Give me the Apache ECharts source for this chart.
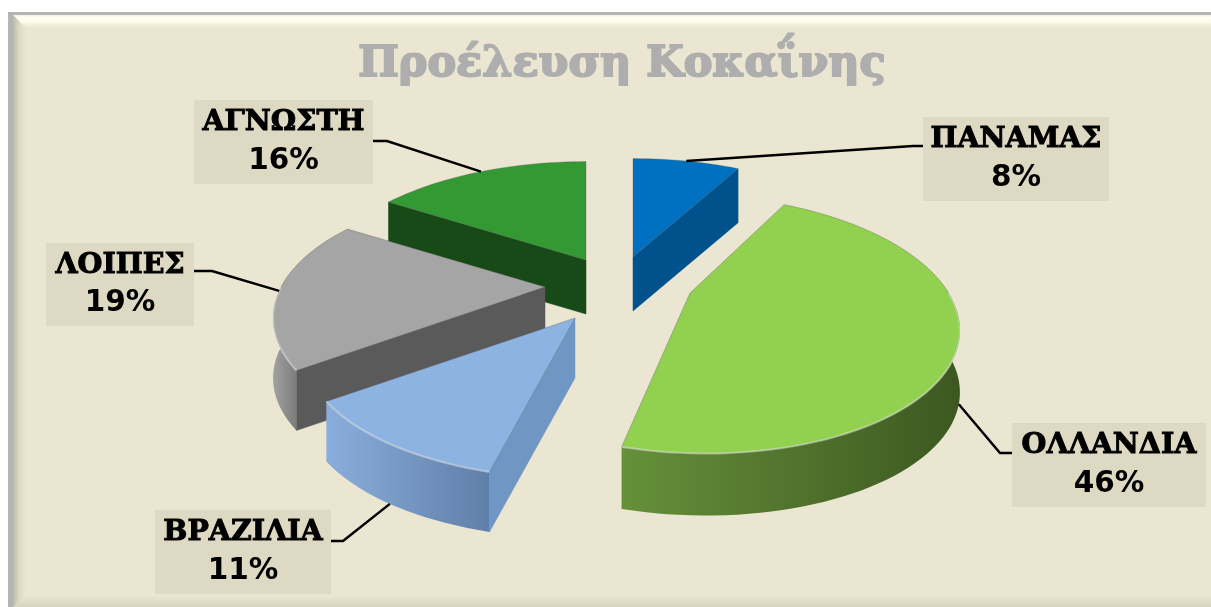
<!DOCTYPE html>
<html>
<head>
<meta charset="utf-8">
<title>Προέλευση Κοκαΐνης</title>
<style>
  html, body { margin: 0; padding: 0; background: #fff; }
  #main { width: 1211px; height: 607px; }
</style>
<script src="https://cdn.jsdelivr.net/npm/echarts@6/dist/echarts.min.js"></script>
</head>
<body>
<div id="main"></div>
<script>
const categories = ['ΠΑΝΑΜΑΣ', 'ΟΛΛΑΝΔΙΑ', 'ΒΡΑΖΙΛΙΑ', 'ΛΟΙΠΕΣ', 'ΑΓΝΩΣΤΗ']
const values = [8, 46, 11, 19, 16]

// colours per slice: top, radial wall, rim wall left -> right
const topColors = ['#0070c0', '#92d050', '#8db3e2', '#a5a5a5', '#339933']
const wallColors = ['#00518c', '#3f5c20', '#7096c4', '#5a5a5a', '#174a17']
const rimColors = [
  ['#00518c', '#00518c'],
  ['#66903a', '#3c5820'],
  ['#8aaedc', '#5f7fa8'],
  ['#a2a2a2', '#7c7c7c'],
  ['#174a17', '#174a17']
]

// where each exploded slice has its tip, wall height, paint order
const tips = [[633, 257], [690, 293], [575, 318], [545, 287], [586, 260]]
const depths = [54, 62, 60, 60, 54]
const paintOrder = [1, 4, 5, 3, 2]
// the big slice sits off-axis in the source, so it leans a little
const skews = [0, 0.1, 0, 0, 0]
const widths = [1, 0.98, 1, 1, 1]

// label boxes [x, y, w, h] and the elbow of each leader line
const boxes = [
  [923, 117, 186, 84],
  [1012, 423, 194, 84],
  [155, 510, 176, 84],
  [46, 243, 148, 83],
  [194, 100, 179, 84]
]
const elbows = [[913, 146], [1000, 453], [343, 541], [212, 271], [387, 141]]

const RX = 264
const RY = 122
const PERSP = 0.24 // far side shrinks, near side grows
const RAD = Math.PI / 180

const total = values.reduce((a, b) => a + b, 0)

// clockwise from 12 o'clock
const startAngle = (i) => values.slice(0, i).reduce((a, b) => a + b, 0) / total * 360

const project = (i, deg, drop) => {
  const tip = tips[i]
  const s = Math.sin(deg * RAD)
  const c = Math.cos(deg * RAD)
  const g = 1 / (1 + PERSP * c)
  const dy = -RY * c * g
  return [tip[0] + RX * widths[i] * s * g + skews[i] * dy, tip[1] + dy + (drop || 0)]
}

const arcPoints = (i, from, to, drop) => {
  const pts = []
  const steps = Math.max(2, Math.ceil((to - from) / 2))
  for (let k = 0; k <= steps; k++) {
    pts.push(project(i, from + (to - from) * k / steps, drop))
  }
  return pts
}

const renderSlice = (params, api) => {
  const i = params.dataIndex
  const from = startAngle(i)
  const to = from + api.value(1) / total * 360
  const tip = tips[i]
  const d = depths[i]
  const z = paintOrder[i] * 10
  const children = []

  const wall = (deg) => {
    const p = project(i, deg)
    return {
      type: 'polygon',
      z2: z,
      shape: { points: [tip, p, [p[0], p[1] + d], [tip[0], tip[1] + d]] },
      style: { fill: wallColors[i], stroke: wallColors[i], lineWidth: 0.5 }
    }
  }
  // only the walls turned towards the viewer
  if (Math.sin(from * RAD) < -0.001) children.push(wall(from))
  if (Math.sin(to * RAD) > 0.001) children.push(wall(to))

  // outer rim, front half only
  const rimFrom = Math.max(from, 90)
  const rimTo = Math.min(to, 270)
  if (rimTo > rimFrom) {
    const upper = arcPoints(i, rimFrom, rimTo, 0)
    const lower = arcPoints(i, rimFrom, rimTo, d).reverse()
    const xs = upper.map((p) => p[0])
    const left = Math.min(...xs)
    const right = Math.max(...xs)
    children.push({
      type: 'polygon',
      z2: z + 1,
      shape: { points: upper.concat(lower) },
      style: {
        fill: {
          type: 'linear',
          x: left, y: 0, x2: right, y2: 0,
          global: true,
          colorStops: [
            { offset: 0, color: rimColors[i][0] },
            { offset: 1, color: rimColors[i][1] }
          ]
        }
      }
    })
    children.push({
      type: 'polyline',
      z2: z + 3,
      shape: { points: upper },
      style: { fill: null, stroke: 'rgba(255,255,255,0.4)', lineWidth: 2 }
    })
  }

  // top face
  children.push({
    type: 'polygon',
    z2: z + 2,
    shape: { points: [tip].concat(arcPoints(i, from, to, 0)) },
    style: { fill: topColors[i], stroke: 'rgba(90,90,90,0.35)', lineWidth: 1 }
  })

  // leader from the middle of the slice to its label
  const mid = (from + to) / 2
  const anchor = project(i, mid, Math.cos(mid * RAD) < -0.1 ? d : 0)
  const box = boxes[i]
  const side = elbows[i][0] > anchor[0] ? box[0] : box[0] + box[2]
  children.push({
    type: 'polyline',
    z2: 100,
    shape: { points: [anchor, elbows[i], [side, elbows[i][1]]] },
    style: { fill: null, stroke: '#000', lineWidth: 2.5 }
  })

  // label
  children.push({
    type: 'rect',
    z2: 101,
    shape: { x: box[0], y: box[1], width: box[2], height: box[3] },
    style: { fill: '#ddd9c3' }
  })
  children.push({
    type: 'text',
    z2: 102,
    style: {
      x: box[0] + box[2] / 2,
      y: box[1] + box[3] / 2,
      align: 'center',
      verticalAlign: 'middle',
      text: '{n|' + categories[i] + '}\n{p|' + api.value(1) + '%}',
      rich: {
        n: { font: 'bold 28.5px "DejaVu Serif"', fill: '#000', stroke: '#000', lineWidth: 1, lineHeight: 38, align: 'center' },
        p: { font: 'bold 29.5px "DejaVu Sans"', fill: '#000', lineHeight: 38, align: 'center' }
      }
    }
  })

  return { type: 'group', children: children }
}

const myChart = echarts.init(document.getElementById('main'), null, { renderer: 'canvas' })

const option = {
  animation: false,
  backgroundColor: '#ffffff',
  title: {
    text: 'Προέλευση Κοκαΐνης',
    left: 617,
    top: 38,
    textAlign: 'center',
    textStyle: {
      fontFamily: 'DejaVu Serif',
      fontWeight: 'bold',
      fontSize: 43,
      color: '#aeaeae',
      textBorderColor: '#aeaeae',
      textBorderWidth: 2,
      textShadowColor: '#6f6f6f',
      textShadowBlur: 0,
      textShadowOffsetX: 0,
      textShadowOffsetY: 2
    }
  },
  graphic: [
    // frame: grey line at the top and left, then a bevel into the panel
    { type: 'rect', z: -10, shape: { x: 8, y: 12, width: 1203, height: 595 }, style: { fill: '#b4b4b4' } },
    { type: 'rect', z: -9, shape: { x: 13, y: 15, width: 1198, height: 592 }, style: { fill: '#ebe6d1' } },
    {
      type: 'polygon', z: -8,
      shape: { points: [[13, 15], [1211, 15], [1211, 28], [26, 28]] },
      style: { fill: { type: 'linear', x: 0, y: 0, x2: 0, y2: 1, colorStops: [{ offset: 0, color: '#f6f3e2' }, { offset: 0.2, color: '#fffff4' }, { offset: 0.5, color: '#fdfbea' }, { offset: 1, color: '#ebe6d1' }] } }
    },
    {
      type: 'polygon', z: -8,
      shape: { points: [[13, 15], [26, 28], [26, 596], [13, 607]] },
      style: { fill: { type: 'linear', x: 0, y: 0, x2: 1, y2: 0, colorStops: [{ offset: 0, color: '#bdb9a8' }, { offset: 0.45, color: '#ddd8c3' }, { offset: 1, color: '#ebe6d1' }] } }
    },
    {
      type: 'polygon', z: -8,
      shape: { points: [[13, 607], [26, 596], [1211, 596], [1211, 607]] },
      style: { fill: { type: 'linear', x: 0, y: 0, x2: 0, y2: 1, colorStops: [{ offset: 0, color: '#ebe6d1' }, { offset: 1, color: '#d6d2be' }] } }
    }
  ],
  series: [
    {
      type: 'custom',
      coordinateSystem: 'none',
      silent: true,
      renderItem: renderSlice,
      data: categories.map((name, i) => ({ name: name, value: [i, values[i]] }))
    }
  ]
}
myChart.setOption(option)
</script>
</body>
</html>
